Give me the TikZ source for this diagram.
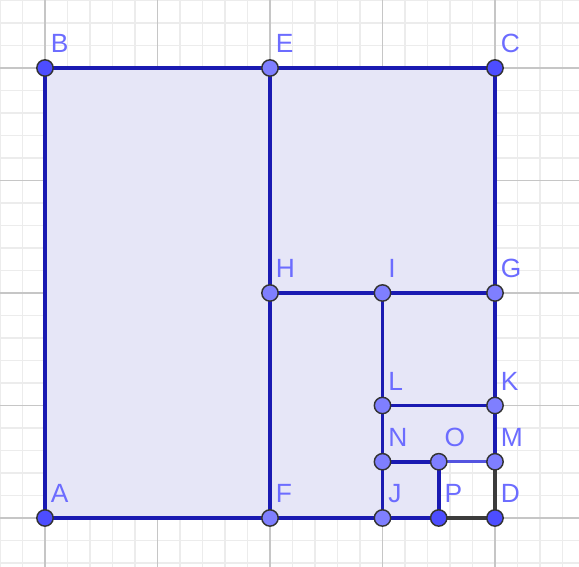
\documentclass[tikz,border=0pt]{standalone}
\usepackage{fontspec}
\setmainfont{Liberation Sans}
\usepackage{tikz}
\usetikzlibrary{positioning}
\definecolor{segblue}{HTML}{1A1AB2}
\definecolor{seglight}{HTML}{5454E0}
\definecolor{seggray}{HTML}{3C3C3C}
\definecolor{areafill}{HTML}{E6E6F7}
\definecolor{freecol}{HTML}{4D4DFF}
\definecolor{depcol}{HTML}{7F7FFF}
\definecolor{lblcol}{HTML}{6C6CFF}

\begin{document}
\begin{tikzpicture}[
  x=1.5cm, y=1.5cm,
  minorgrid/.style={draw=gray!15, line width=0.4pt},
  majorgrid/.style={draw=gray!45, line width=0.5pt},
  seg/.style={draw=segblue, line width=1.45pt},
  pt/.style={circle, draw=black!80, line width=0.55pt, inner sep=0pt,
             minimum size=6.2pt},
  freept/.style={pt, fill=freecol},
  deppt/.style={pt, fill=depcol},
  lbl/.style={font=\fontsize{10}{11}\selectfont, text=lblcol, inner sep=0pt},
]
  \useasboundingbox (-0.4,-0.4356) rectangle (4.7467,4.6044);

  % Grid
  \begin{scope}
    \clip (-0.4,-0.4356) rectangle (4.7467,4.6044);
    \draw[minorgrid] (-1,-1) grid[step=0.2] (5,5);
    \draw[majorgrid] (-1,-1) grid[step=1] (5,5);
  \end{scope}

  % Points
  \coordinate (A) at (0,0);
  \coordinate (B) at (0,4);
  \coordinate (C) at (4,4);
  \coordinate (D) at (4,0);
  \coordinate (E) at (2,4);
  \coordinate (F) at (2,0);
  \coordinate (G) at (4,2);
  \coordinate (H) at (2,2);
  \coordinate (I) at (3,2);
  \coordinate (J) at (3,0);
  \coordinate (K) at (4,1);
  \coordinate (L) at (3,1);
  \coordinate (M) at (4,0.5);
  \coordinate (N) at (3,0.5);
  \coordinate (O) at (3.5,0.5);
  \coordinate (P) at (3.5,0);

  % Shaded region
  \fill[areafill] (A) -- (B) -- (C) -- (M) -- (O) -- (P) -- cycle;

  % Segments
  \draw[seg] (A) -- (B) -- (E) -- (C) -- (G) -- (K) -- (M);
  \draw[seg] (P) -- (J) -- (F) -- (A);
  \draw[seg] (E) -- (H) -- (F);
  \draw[seg] (H) -- (I) -- (G);
  \draw[seg] (I) -- (L) -- (N) -- (J);
  \draw[seg] (L) -- (K);
  \draw[seg] (N) -- (O) -- (P);
  \draw[seg, draw=seglight, line width=1.2pt] (O) -- (M);
  \draw[seg, draw=seggray, line width=1.2pt] (M) -- (D) -- (P);

  % Dots
  \foreach \p in {A,B,C,D,P}
    \node[freept] (d\p) at (\p) {};
  \foreach \p in {E,F,G,H,I,J,K,L,M,N,O}
    \node[deppt] (d\p) at (\p) {};

  % Labels
  \foreach \p in {A,B,C,D,E,F,G,H,I,J,K,L,M,N,O,P}
    \node[lbl, above right=5.6pt and 2pt of \p] (l\p) {\p};
\end{tikzpicture}
\end{document}
